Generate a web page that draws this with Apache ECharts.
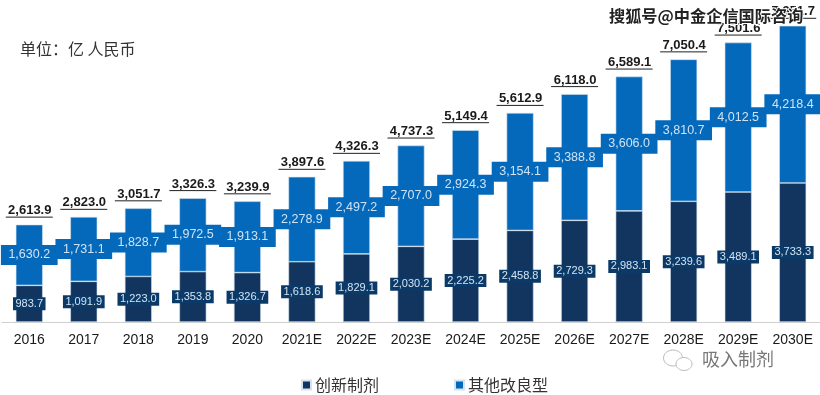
<!DOCTYPE html>
<html><head><meta charset="utf-8">
<style>html,body{margin:0;padding:0;background:#fff}#c{width:820px;height:395px}</style>
<script src="https://cdn.jsdelivr.net/npm/echarts@6/dist/echarts.min.js"></script>
</head><body><div id="c"></div>
<script>
const categories = ['2016','2017','2018','2019','2020','2021E','2022E','2023E','2024E','2025E','2026E','2027E','2028E','2029E','2030E'];
const innovative = [983.7,1091.9,1223.0,1353.8,1326.7,1618.6,1829.1,2030.2,2225.2,2458.8,2729.3,2983.1,3239.6,3489.1,3733.3];
const improved = [1630.2,1731.1,1828.7,1972.5,1913.1,2278.9,2497.2,2707.0,2924.3,3154.1,3388.8,3606.0,3810.7,4012.5,4218.4];
const totals = [2613.9,2823.0,3051.7,3326.3,3239.9,3897.6,4326.3,4737.3,5149.4,5612.9,6118.0,6589.1,7050.4,7501.6,7951.7];
const fmt = v => v.toLocaleString('en-US',{minimumFractionDigits:1,maximumFractionDigits:1});
const FONT = '"Liberation Sans",Arial,sans-serif';
const CJK = '"Noto Sans CJK SC",sans-serif';
const chart = echarts.init(document.getElementById('c'),null,{renderer:'canvas'});
chart.setOption({
  animation:false,
  backgroundColor:'#fff',
  grid:{left:2,right:0,top:24,height:298},
  xAxis:{type:'category',data:categories,
    axisLine:{lineStyle:{color:'#cfcfcf',width:1}},axisTick:{show:false},
    axisLabel:{color:'#1a1a1a',fontFamily:FONT,fontSize:14,margin:11,interval:0}},
  yAxis:{type:'value',min:0,max:8000,show:false,splitLine:{show:false}},
  legend:{data:['创新制剂','其他改良型'],left:301,top:377,padding:0,itemWidth:9,itemHeight:9,itemGap:75,icon:'rect',
    textStyle:{fontFamily:CJK,fontSize:16,color:'#333',padding:[0,0,0,-1]}},
  series:[
    {name:'创新制剂',type:'bar',stack:'a',data:innovative,barWidth:27,
     itemStyle:{color:'#12355f',borderColor:'#d5e3ef',borderWidth:0.6},
     label:{show:true,position:'inside',formatter:p=>fmt(p.value),fontFamily:FONT,fontSize:11,color:'#d5e3f0',
       backgroundColor:'#0b3a68',padding:[1,2.5,0,2.5],lineHeight:12}},
    {name:'其他改良型',type:'bar',stack:'a',data:improved,
     itemStyle:{color:'#0468bb',borderColor:'#d5e3ef',borderWidth:0.6},
     label:{show:true,position:'inside',formatter:p=>fmt(p.value),fontFamily:FONT,fontSize:12.5,color:'#cfe3f5',
       backgroundColor:'#0468bb',padding:[4,7.5,3,7.5],lineHeight:13}},
    {name:'合计',type:'custom',data:totals.map((v,i)=>[i,v]),clip:false,z:5,
     encode:{x:0,y:1},
     renderItem:(params,api)=>{
       const p = api.coord([api.value(0),api.value(1)]);
       return {type:'group',children:[
         {type:'line',shape:{x1:p[0]-23.5,y1:p[1]-7.5,x2:p[0]+23.5,y2:p[1]-7.5},style:{stroke:'#222',lineWidth:1}},
         {type:'text',x:p[0]+0.5,y:p[1]-14,style:{text:fmt(api.value(1)),fontFamily:FONT,fontSize:13,fontWeight:'bold',fill:'#1a1a1a',align:'center',verticalAlign:'middle'}}
       ]};
     }}
  ],
  graphic:[
    {type:'text',left:20,top:41,z:20,style:{text:'单位：亿 人民币',fontFamily:CJK,fontSize:16,fill:'#333'}},
    {type:'text',left:608,top:7,z:20,style:{text:'搜狐号@中金企信国际咨询',fontFamily:CJK,fontSize:16.2,fontWeight:'bold',fill:'#222',stroke:'#fff',lineWidth:2}},
    {type:'text',left:702,top:350,z:20,style:{text:'吸入制剂',fontFamily:CJK,fontSize:18,fill:'#777'}},
    {type:'ellipse',z:20,shape:{cx:673,cy:358,rx:9.5,ry:8},style:{fill:'#fff',stroke:'#bbb',lineWidth:1}},
    {type:'ellipse',z:20,shape:{cx:684,cy:364,rx:8,ry:6.5},style:{fill:'#fff',stroke:'#bbb',lineWidth:1}}
  ]
});
</script></body></html>
